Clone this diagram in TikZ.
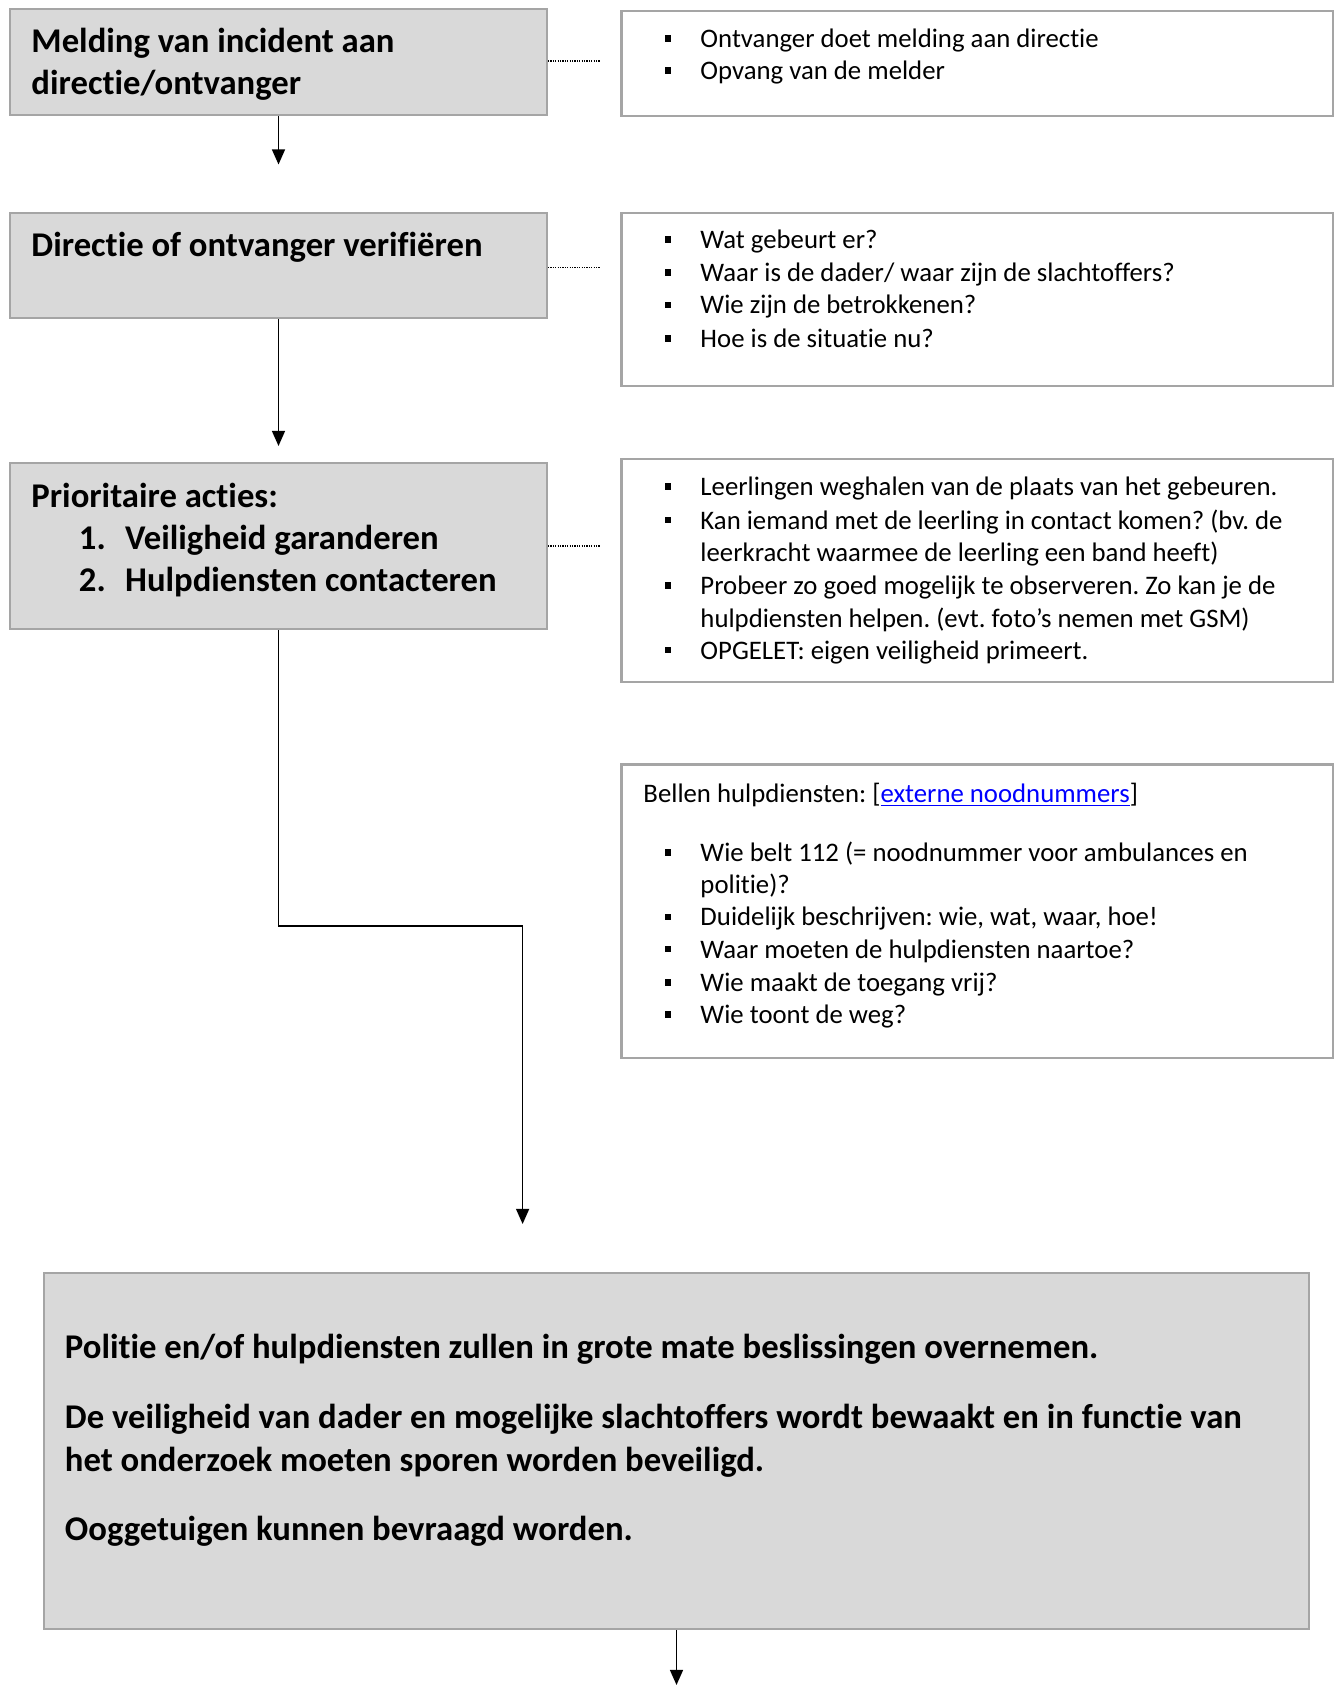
\documentclass[tikz,border=0pt]{standalone}
\usepackage{fontspec}
\setmainfont{Carlito}[Ligatures={NoCommon}]
\usetikzlibrary{arrows.meta,fit}
\definecolor{boxfill}{HTML}{D9D9D9}
\definecolor{boxline}{HTML}{A5A5A5}
\definecolor{linkblue}{HTML}{0000FF}
\frenchspacing
\tikzset{
  graybox/.style={draw=boxline, fill=boxfill, line width=0.85pt, inner sep=0pt},
  whitebox/.style={draw=boxline, fill=white, line width=0.85pt, inner sep=0pt},
  bodytxt/.style={anchor=base west, inner sep=0pt, font=\fontsize{11.15}{13}\selectfont},
  titletxt/.style={anchor=base west, inner sep=0pt, font=\bfseries\fontsize{14.45}{17}\selectfont},
  bulletsq/.style={fill=black, draw=none, minimum size=6.5*0.41667pt, inner sep=0pt, anchor=center},
  arr/.style={line width=0.7pt, -{Triangle[length=6.3pt,width=5.4pt]}},
  dotline/.style={line width=0.55pt, dash pattern=on 0.5pt off 0.5pt},
}
\begin{document}
\begin{tikzpicture}[x=0.41667pt, y=-0.41667pt]
\useasboundingbox (0,0) rectangle (1343,1686);

% left flow boxes
\node[graybox, fit={(10,9) (547,115)}] (b1) {};
\node[graybox, fit={(10,213) (547,318)}] (b2) {};
\node[graybox, fit={(10,463) (547,629)}] (b3) {};
\node[graybox, fit={(44,1273) (1309,1629)}] (b5) {};

% right info boxes
\node[whitebox, fit={(621.5,10.7) (1333,116)}] (r1) {};
\node[whitebox, fit={(621.5,213) (1333,386)}] (r2) {};
\node[whitebox, fit={(621.5,459) (1333,682)}] (r3) {};
\node[whitebox, fit={(621.5,764.5) (1333,1058)}] (r4) {};

% titles
\node[titletxt] (t1a) at (31,52.7) {Melding van incident aan};
\node[titletxt] (t1b) at (31,94.6) {directie/ontvanger};
\node[titletxt] (t2) at (31,257) {Directie of ontvanger verifiëren};
\node[titletxt] (t3) at (31,507.5) {Prioritaire acties:};
\node[titletxt] (t3n1) at (78.5,549.5) {1.};
\node[titletxt] (t3a) at (124.7,549.5) {Veiligheid garanderen};
\node[titletxt] (t3n2) at (78.5,591.4) {2.};
\node[titletxt] (t3b) at (124.7,591.4) {Hulpdiensten contacteren};

\node[titletxt] (t5a) at (64.5,1358) {Politie en/of hulpdiensten zullen in grote mate beslissingen overnemen.};
\node[titletxt] (t5b) at (64.5,1428) {De veiligheid van dader en mogelijke slachtoffers wordt bewaakt en in functie van};
\node[titletxt] (t5c) at (64.5,1471) {het onderzoek moeten sporen worden beveiligd.};
\node[titletxt] (t5d) at (64.5,1540) {Ooggetuigen kunnen bevraagd worden.};

% bullet text lines
\foreach \n/\y/\t in {
  l1/47.3/{Ontvanger doet melding aan directie},
  l2/79.6/{Opvang van de melder},
  l3/248.4/{Wat gebeurt er?},
  l4/281.7/{Waar is de dader/ waar zijn de slachtoffers?},
  l5/314/{Wie zijn de betrokkenen?},
  l6/347.3/{Hoe is de situatie nu?},
  l7/495.7/{Leerlingen weghalen van de plaats van het gebeuren.},
  l8/529/{Kan iemand met de leerling in contact komen? (bv. de},
  l9/561.3/{leerkracht waarmee de leerling een band heeft)},
  l10/594.6/{Probeer zo goed mogelijk te observeren. Zo kan je de},
  l11/627/{hulpdiensten helpen. (evt. foto’s nemen met GSM)},
  l12/659/{OPGELET: eigen veiligheid primeert.},
  l13/861.3/{Wie belt 112 (= noodnummer voor ambulances en},
  l14/893.6/{politie)?},
  l15/925.8/{Duidelijk beschrijven: wie, wat, waar, hoe!},
  l16/958.1/{Waar moeten de hulpdiensten naartoe?},
  l17/991.4/{Wie maakt de toegang vrij?},
  l18/1023.7/{Wie toont de weg?}}
  {\node[bodytxt] (\n) at (700,\y) {\t};}

% bullets
\foreach \n/\y in {s1/47.3, s2/79.6, s3/248.4, s4/281.7, s5/314, s6/347.3,
  s7/495.7, s8/529, s9/594.6, s10/659,
  s11/861.3, s12/925.8, s13/958.1, s14/991.4, s15/1023.7}
  {\node[bulletsq] (\n) at (668,\y-9) {};}

\node[bodytxt] (bel) at (643,802) {Bellen hulpdiensten: [\textcolor{linkblue}{\underline{externe noodnummers}}]};

% connectors
\coordinate (a1) at (278.5,164.5);
\coordinate (a2) at (278.5,446);
\coordinate (bend) at (522.6,926);
\coordinate (a3) at (522.6,1224);
\coordinate (a5) at (676.5,1685);
\draw[arr] (b1.south) -- (a1);
\draw[arr] (b2.south) -- (a2);
\draw[arr] (b3.south) |- (bend) -- (a3);
\draw[arr] (b5.south -| a5) -- (a5);

% dotted links
\coordinate (d1) at (600,61);
\coordinate (d2) at (600,267.7);
\coordinate (d3) at (600,546);
\draw[dotline] (b1.east |- d1) -- (d1);
\draw[dotline] (b2.east |- d2) -- (d2);
\draw[dotline] (b3.east |- d3) -- (d3);
\end{tikzpicture}
\end{document}
